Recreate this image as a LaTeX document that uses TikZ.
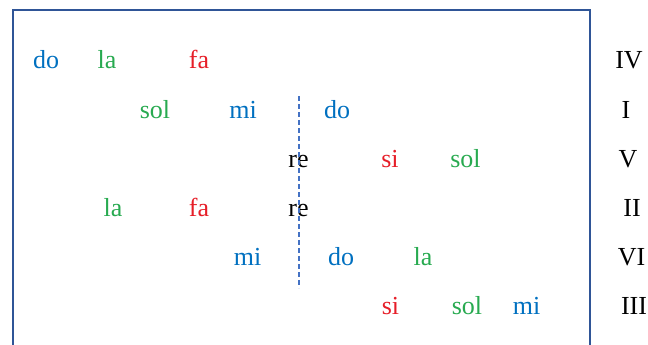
\documentclass[tikz,border=0pt]{standalone}
\usepackage{fontspec}
\setmainfont{Liberation Serif}
\usetikzlibrary{positioning}
\definecolor{noteblue}{RGB}{0,112,192}
\definecolor{notegreen}{RGB}{40,170,80}
\definecolor{notered}{RGB}{230,30,40}
\definecolor{framecol}{RGB}{47,85,151}
\definecolor{axiscol}{RGB}{68,114,196}

\begin{document}
\begin{tikzpicture}[
  x=1pt, y=-1pt,
  note/.style={inner sep=0pt, anchor=base, font=\fontsize{26}{30}\selectfont},
  nb/.style={note, text=noteblue},
  ng/.style={note, text=notegreen},
  nr/.style={note, text=notered},
  nk/.style={note, text=black},
  deg/.style={note, text=black},
]
\useasboundingbox (0,0) rectangle (648,345);
\draw[framecol, line width=2pt] (13,345) |- (590,10.5) -- (590,345);

% row 1
\node[nb] (do1) at (46,69) {do};
\node[ng] (la1) at (107,69) {la};
\node[nr] (fa1) at (199,69) {fa};
\node[deg] (IV) at (629,69) {IV};
% row 2
\node[ng] (sol2) at (155,118) {sol};
\node[nb] (mi2) at (243,118) {mi};
\node[nb] (do2) at (337,118) {do};
\node[deg] (I) at (626,118) {I};
% row 3
\node[nk] (re3) at (298.5,167) {re};
\node[nr] (si3) at (390,167) {si};
\node[ng] (sol3) at (465.5,167) {sol};
\node[deg] (V) at (628,167) {V};
% row 4
\node[ng] (la4) at (113,216) {la};
\node[nr] (fa4) at (199,216) {fa};
\node[nk] (re4) at (298.5,216) {re};
\node[deg] (II) at (632,216) {II};
% row 5
\node[nb] (mi5) at (247.5,265) {mi};
\node[nb] (do5) at (341,265) {do};
\node[ng] (la5) at (423,265) {la};
\node[deg] (VI) at (631.5,265) {VI};
% row 6
\node[nr] (si6) at (390.5,314) {si};
\node[ng] (sol6) at (467,314) {sol};
\node[nb] (mi6) at (526.5,314) {mi};
\node[deg] (III) at (634,314) {III};

% axis
\coordinate (axtop) at (299,96);
\coordinate (axbot) at (299,288);
\draw[axiscol, line width=1.6pt, dash pattern=on 5pt off 3pt] (axtop) -- (axbot);
\end{tikzpicture}
\end{document}
